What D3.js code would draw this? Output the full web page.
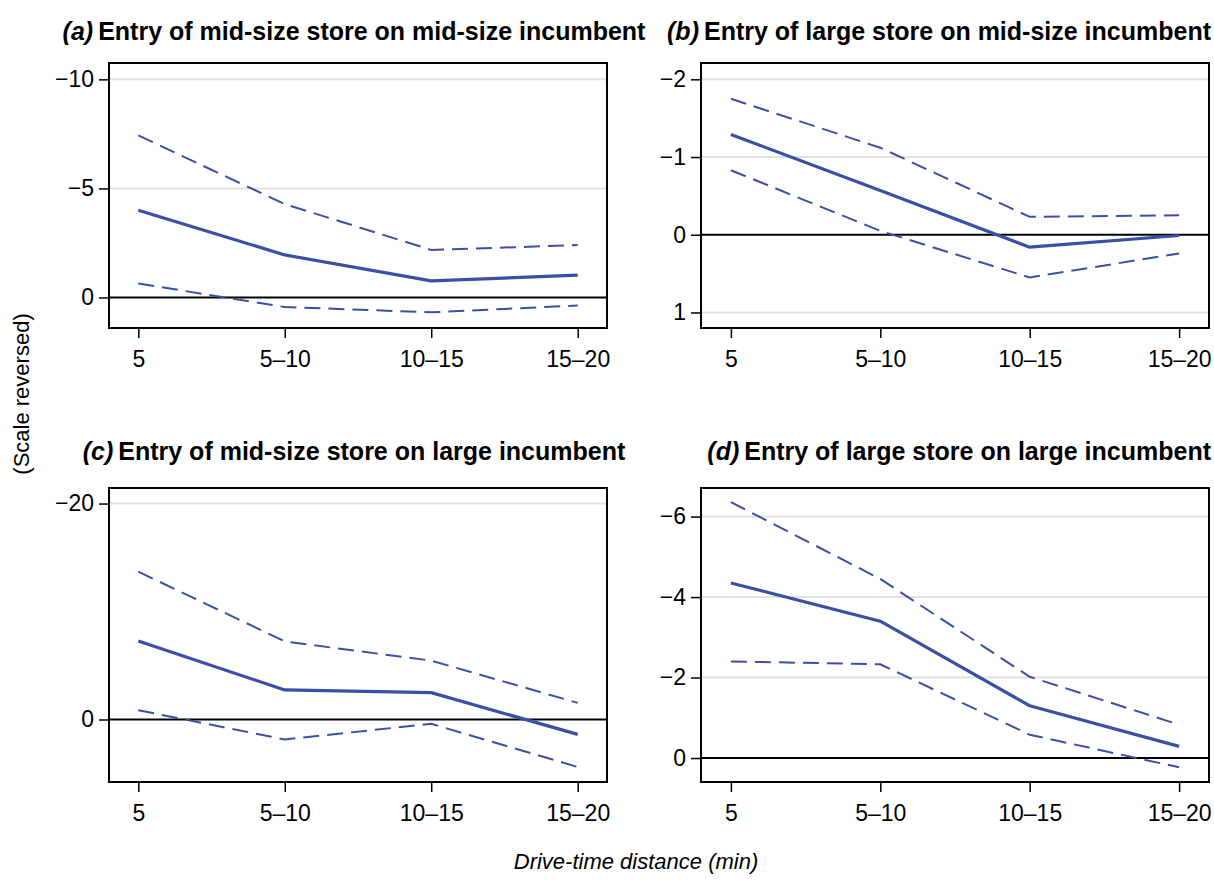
<!DOCTYPE html>
<html>
<head>
<meta charset="utf-8">
<script src="https://cdn.jsdelivr.net/npm/d3@7"></script>
<style>
  html, body { margin: 0; padding: 0; background: #ffffff; }
  svg { display: block; font-family: "Liberation Sans", Arial, Helvetica, sans-serif; }
</style>
</head>
<body>
<svg id="chart" width="1214" height="880"></svg>
<script>
// ---------- data ----------
const categories = ["5", "5\u201310", "10\u201315", "15\u201320"];

const panelLetters = ["(a)", "(b)", "(c)", "(d)"];
const panelTitles = [
  "Entry of mid-size store on mid-size incumbent",
  "Entry of large store on mid-size incumbent",
  "Entry of mid-size store on large incumbent",
  "Entry of large store on large incumbent"
];

// point estimates
const estA = [-4.00, -1.95, -0.76, -1.02];
const estB = [-1.29, -0.57, 0.16, 0.01];
const estC = [-7.26, -2.74, -2.49, 1.38];
const estD = [-4.35, -3.40, -1.30, -0.29];

// confidence band (lower = more negative, upper = less negative)
const lowA = [-7.43, -4.28, -2.18, -2.40];
const highA = [-0.64, 0.44, 0.68, 0.37];
const lowB = [-1.75, -1.12, -0.23, -0.25];
const highB = [-0.83, -0.05, 0.55, 0.24];
const lowC = [-13.69, -7.23, -5.45, -1.54];
const highC = [-0.86, 1.85, 0.40, 4.40];
const lowD = [-6.36, -4.45, -2.02, -0.83];
const highD = [-2.40, -2.33, -0.58, 0.23];

// y-axis ticks and ranges (scale reversed)
const ticksA = [-10, -5, 0];
const ticksB = [-2, -1, 0, 1];
const ticksC = [-20, 0];
const ticksD = [-6, -4, -2, 0];
const domainA = [-10.75, 1.40];
const domainB = [-2.21, 1.20];
const domainC = [-21.44, 5.79];
const domainD = [-6.71, 0.595];

const xTitle = "Drive-time distance (min)";
const yTitle = "(Scale reversed)";

// ---------- layout ----------
const W = 1214, H = 880;
const boxes = [
  { left: 109, right: 607, top: 63, bottom: 328, titleY: 40, titleShift: -4 },
  { left: 701, right: 1209, top: 63, bottom: 328, titleY: 40, titleShift: 5 },
  { left: 109, right: 607, top: 488, bottom: 782, titleY: 460, titleShift: -4 },
  { left: 701, right: 1209, top: 488, bottom: 782, titleY: 460, titleShift: 5 }
];
const panels = [
  { est: estA, low: lowA, high: highA, ticks: ticksA, domain: domainA },
  { est: estB, low: lowB, high: highB, ticks: ticksB, domain: domainB },
  { est: estC, low: lowC, high: highC, ticks: ticksC, domain: domainC },
  { est: estD, low: lowD, high: highD, ticks: ticksD, domain: domainD }
];

const blue = "#3b4fa3";
const FONT = "'Liberation Sans', Arial, sans-serif";
const svg = d3.select("#chart");
svg.append("rect").attr("width", W).attr("height", H).attr("fill", "#fff");

const fmt = d3.format("");

panels.forEach((p, i) => {
  const b = boxes[i];
  const g = svg.append("g");
  const x = d3.scalePoint().domain(categories).range([b.left, b.right]).padding(0.2);
  const y = d3.scaleLinear().domain(p.domain).range([b.top, b.bottom]);

  // gridlines (non-zero ticks)
  g.selectAll("line.grid").data(p.ticks.filter(t => t !== 0)).join("line")
    .attr("class", "grid")
    .attr("x1", b.left).attr("x2", b.right)
    .attr("y1", d => y(d)).attr("y2", d => y(d))
    .attr("stroke", "#e2e2e2").attr("stroke-width", 2);

  // zero line
  g.append("line")
    .attr("x1", b.left).attr("x2", b.right)
    .attr("y1", y(0)).attr("y2", y(0))
    .attr("stroke", "#000").attr("stroke-width", 2);

  // lines
  const line = d3.line().x((d, j) => x(categories[j])).y(d => y(d));
  [p.low, p.high].forEach(arr => {
    g.append("path").datum(arr)
      .attr("d", line)
      .attr("fill", "none")
      .attr("stroke", blue)
      .attr("stroke-width", 2)
      .attr("stroke-dasharray", "16,8");
  });
  g.append("path").datum(p.est)
    .attr("d", line)
    .attr("fill", "none")
    .attr("stroke", blue)
    .attr("stroke-width", 3.2)
    .attr("stroke-linejoin", "round");

  // box
  g.append("rect")
    .attr("x", b.left).attr("y", b.top)
    .attr("width", b.right - b.left).attr("height", b.bottom - b.top)
    .attr("fill", "none").attr("stroke", "#000").attr("stroke-width", 2);

  // y axis
  const ya = d3.axisLeft(y).tickValues(p.ticks).tickSize(10).tickPadding(5).tickFormat(fmt);
  const gy = g.append("g").attr("transform", `translate(${b.left},0)`).call(ya);
  gy.select(".domain").remove();
  gy.selectAll(".tick line").attr("stroke", "#000").attr("stroke-width", 1.5);
  gy.selectAll(".tick text").attr("font-size", 23).attr("fill", "#000")
    .attr("font-family", FONT);

  // x axis
  const xa = d3.axisBottom(x).tickSize(10).tickPadding(13);
  const gx = g.append("g").attr("transform", `translate(0,${b.bottom})`).call(xa);
  gx.select(".domain").remove();
  gx.selectAll(".tick line").attr("stroke", "#000").attr("stroke-width", 1.5);
  gx.selectAll(".tick text").attr("font-size", 23).attr("fill", "#000")
    .attr("font-family", FONT);

  // title
  const t = svg.append("text")
    .attr("y", b.titleY)
    .attr("font-size", 25)
    .attr("font-weight", "bold")
    .attr("font-family", FONT)
    .attr("fill", "#000");
  t.append("tspan").attr("font-style", "italic").text(panelLetters[i]);
  t.append("tspan").text("\u2009" + panelTitles[i]);
  const tw = t.node().getComputedTextLength();
  let tx = (b.left + b.right) / 2 + b.titleShift - tw / 2;
  if (tx + tw > W - 3) tx = W - 3 - tw;
  t.attr("x", tx);
});

// axis titles
svg.append("text")
  .attr("x", 636).attr("y", 869)
  .attr("text-anchor", "middle")
  .attr("font-size", 22)
  .attr("font-style", "italic")
  .attr("font-family", FONT)
  .attr("fill", "#000")
  .text(xTitle);

svg.append("text")
  .attr("transform", "translate(29,394) rotate(-90)")
  .attr("text-anchor", "middle")
  .attr("font-size", 22)
  .attr("font-family", FONT)
  .attr("fill", "#000")
  .text(yTitle);
</script>
</body>
</html>
